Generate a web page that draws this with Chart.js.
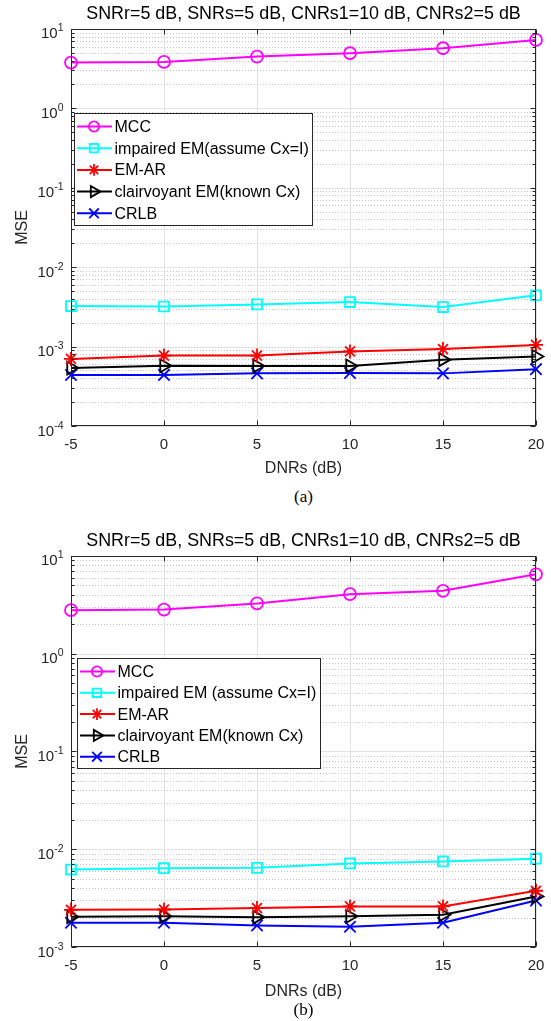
<!DOCTYPE html>
<html>
<head>
<meta charset="utf-8">
<script src="https://cdn.jsdelivr.net/npm/chart.js@4.4.1/dist/chart.umd.min.js"></script>
<style>
  html, body { margin: 0; padding: 0; background: #fff; overflow: hidden; width: 551px; height: 1021px; }
  .panel { position: absolute; left: 0; }
  .caption { position: absolute; left: 0; width: 607px; text-align: center;
             font-family: "Liberation Serif", "Times New Roman", serif; font-size: 17px; color: #000; line-height: 20px; }
</style>
</head>
<body>
<div class="panel" style="top:0px"><canvas id="chartA" width="607" height="480"></canvas></div>
<div class="caption" style="top:487px">(a)</div>
<div class="panel" style="top:527px"><canvas id="chartB" width="607" height="474"></canvas></div>
<div class="caption" style="top:1000px">(b)</div>
<script>
// DNR sweep (x axis) and shared labels
const dnrs = [-5, 0, 5, 10, 15, 20];
const titleText = 'SNRr=5 dB, SNRs=5 dB, CNRs1=10 dB, CNRs2=5 dB';
const xTitle = 'DNRs (dB)';
const yTitle = 'MSE';
const namesA = ['MCC', 'impaired EM(assume Cx=I)', 'EM-AR', 'clairvoyant EM(known Cx)', 'CRLB'];
const namesB = ['MCC', 'impaired EM (assume Cx=I)', 'EM-AR', 'clairvoyant EM(known Cx)', 'CRLB'];

// Panel (a) MSE values
const mccA      = [3.77, 3.85, 4.49, 4.95, 5.72, 7.28];
const impairedA = [3.24e-3, 3.2e-3, 3.4e-3, 3.64e-3, 3.15e-3, 4.43e-3];
const emArA     = [7.0e-4, 7.7e-4, 7.7e-4, 8.7e-4, 9.3e-4, 1.05e-3];
const clairA    = [5.37e-4, 5.74e-4, 5.7e-4, 5.7e-4, 6.85e-4, 7.5e-4];
const crlbA     = [4.38e-4, 4.4e-4, 4.6e-4, 4.65e-4, 4.6e-4, 5.2e-4];

// Panel (b) MSE values
const mccB      = [2.79, 2.83, 3.27, 4.07, 4.4, 6.49];
const impairedB = [6.2e-3, 6.4e-3, 6.45e-3, 7.16e-3, 7.5e-3, 8.0e-3];
const emArB     = [2.4e-3, 2.42e-3, 2.5e-3, 2.6e-3, 2.6e-3, 3.76e-3];
const clairB    = [2.04e-3, 2.06e-3, 2.02e-3, 2.06e-3, 2.14e-3, 3.29e-3];
const crlbB     = [1.77e-3, 1.77e-3, 1.66e-3, 1.61e-3, 1.77e-3, 2.99e-3];

const FONT = '"Liberation Sans", Arial, Helvetica, sans-serif';
Chart.defaults.font.family = FONT;

// Line/marker style per series
const styles = [
  { color: '#ff00ff', pointStyle: 'circle',   radius: 6, rotation: 0 },
  { color: '#00ffff', pointStyle: 'rect',     radius: 7, rotation: 0 },
  { color: '#ff0000', pointStyle: 'star',     radius: 7, rotation: 0 },
  { color: '#000000', pointStyle: 'triangle', radius: 7.5, rotation: 90 },
  { color: '#0000ff', pointStyle: 'crossRot', radius: 8, rotation: 0 }
];

function makeDatasets(names, series) {
  return series.map((vals, i) => ({
    label: names[i],
    data: dnrs.map((x, j) => ({ x: x, y: vals[j] })),
    borderColor: styles[i].color,
    backgroundColor: 'rgba(0,0,0,0)',
    borderWidth: 2,
    pointStyle: styles[i].pointStyle,
    pointRadius: styles[i].radius,
    pointHoverRadius: styles[i].radius,
    pointRotation: styles[i].rotation,
    pointBorderWidth: 1.8,
    pointBorderColor: styles[i].color,
    pointBackgroundColor: 'rgba(0,0,0,0)',
    tension: 0,
    clip: false
  }));
}

// Decade ticks with 2..9 minor subdivisions
function logTicks(scale) {
  const lo = Math.round(Math.log10(scale.min));
  const hi = Math.round(Math.log10(scale.max));
  const ticks = [];
  for (let e = lo; e <= hi; e++) {
    for (let m = 1; m <= 9; m++) {
      if (e === hi && m > 1) break;
      ticks.push({ value: m * Math.pow(10, e), major: m === 1, exp: e });
    }
  }
  scale.ticks = ticks;
}

// MATLAB-style axes: log grid, box, inward tick marks, 10^n labels
const matlabAxes = {
  id: 'matlabAxes',
  beforeDatasetsDraw(chart) {
    const { ctx, chartArea: a, scales: { y } } = chart;
    ctx.save();
    ctx.lineWidth = 1;
    y.ticks.forEach(t => {
      const py = Math.round(y.getPixelForValue(t.value)) + 0.5;
      if (py < a.top || py > a.bottom + 1) return;
      if (t.major) { ctx.setLineDash([]); ctx.strokeStyle = '#e3e3e3'; }
      else { ctx.setLineDash([1, 2]); ctx.strokeStyle = '#c2c2c2'; }
      ctx.beginPath();
      ctx.moveTo(a.left, py);
      ctx.lineTo(a.right, py);
      ctx.stroke();
    });
    ctx.restore();
  },
  afterDatasetsDraw(chart) {
    const { ctx, chartArea: a, scales: { x, y } } = chart;
    ctx.save();
    ctx.strokeStyle = '#262626';
    ctx.lineWidth = 1;
    ctx.setLineDash([]);
    const L = Math.round(a.left) + 0.5, R = Math.round(a.right) - 0.5;
    const T = Math.round(a.top) + 0.5, B = Math.round(a.bottom) - 0.5;
    ctx.strokeRect(L, T, R - L, B - T);
    ctx.beginPath();
    x.ticks.forEach(t => {
      const px = Math.round(x.getPixelForValue(t.value)) + 0.5;
      ctx.moveTo(px, B); ctx.lineTo(px, B - 5);
      ctx.moveTo(px, T); ctx.lineTo(px, T + 5);
    });
    y.ticks.forEach(t => {
      const py = Math.round(y.getPixelForValue(t.value)) + 0.5;
      const len = t.major ? 5 : 3;
      ctx.moveTo(L, py); ctx.lineTo(L + len, py);
      ctx.moveTo(R, py); ctx.lineTo(R - len, py);
    });
    ctx.stroke();

    // y tick labels: base 10 with raised exponent
    ctx.fillStyle = '#262626';
    ctx.textBaseline = 'alphabetic';
    ctx.textAlign = 'left';
    y.ticks.filter(t => t.major).forEach(t => {
      const py = y.getPixelForValue(t.value);
      const expStr = String(t.exp);
      ctx.font = '10.5px ' + FONT;
      const ew = ctx.measureText(expStr).width;
      ctx.font = '15px ' + FONT;
      const bw = ctx.measureText('10').width;
      const right = a.left - 7.5;
      ctx.fillText('10', right - ew - bw, py + 9.5);
      ctx.font = '10.5px ' + FONT;
      ctx.fillText(expStr, right - ew, py + 2.5);
    });
    ctx.restore();
  }
};

// Boxed legend inside the axes, line sample with marker
const matlabLegend = {
  id: 'matlabLegend',
  afterDraw(chart, args, o) {
    const { ctx, chartArea: a } = chart;
    const items = chart.data.datasets;
    ctx.save();
    ctx.font = o.fontSize + 'px ' + FONT;
    const maxW = Math.max(...items.map(d => ctx.measureText(d.label).width));
    const left = Math.round(a.left + o.dx), top = Math.round(a.top + o.dy);
    const w = Math.round(o.textX + maxW + o.padRight);
    const h = Math.round(o.padTop + o.rowH * (items.length - 1) + o.padBottom);
    ctx.fillStyle = '#ffffff';
    ctx.fillRect(left, top, w, h);
    ctx.strokeStyle = '#262626';
    ctx.lineWidth = 1;
    ctx.strokeRect(left + 0.5, top + 0.5, w, h);
    items.forEach((d, i) => {
      const cy = top + o.padTop + i * o.rowH;
      ctx.strokeStyle = d.borderColor;
      ctx.lineWidth = d.borderWidth;
      ctx.beginPath();
      ctx.moveTo(left + o.lineX0, cy);
      ctx.lineTo(left + o.lineX1, cy);
      ctx.stroke();
      ctx.fillStyle = 'rgba(0,0,0,0)';
      ctx.lineWidth = d.pointBorderWidth;
      Chart.helpers.drawPoint(ctx, {
        pointStyle: d.pointStyle, rotation: d.pointRotation,
        radius: d.pointRadius * 0.85, borderWidth: d.pointBorderWidth
      }, left + o.markX, cy);
      ctx.fillStyle = '#000';
      ctx.font = o.fontSize + 'px ' + FONT;
      ctx.textBaseline = 'middle';
      ctx.textAlign = 'left';
      ctx.fillText(d.label, left + o.textX, cy + 1);
    });
    ctx.restore();
  }
};

function buildChart(id, names, series, yMin, yMax, p) {
  return new Chart(document.getElementById(id), {
    type: 'line',
    data: { datasets: makeDatasets(names, series) },
    options: {
      responsive: false,
      animation: false,
      events: [],
      layout: { padding: 0 },
      plugins: {
        legend: { display: false },
        tooltip: { enabled: false },
        title: {
          display: true, text: titleText, color: '#000',
          font: { size: 17.9, weight: 'normal' }, padding: { top: 3, bottom: 4.5 }
        },
        matlabLegend: {
          dx: p.legDx, dy: p.legDy, fontSize: 16, textX: 40.5, padRight: 3.5,
          padTop: 13.5, rowH: p.rowH, padBottom: 11.5, lineX0: 3, lineX1: 38, markX: 20
        }
      },
      scales: {
        x: {
          type: 'linear', min: dnrs[0], max: dnrs[dnrs.length - 1],
          afterBuildTicks: s => { s.ticks = dnrs.map(v => ({ value: v })); },
          afterFit: s => { s.height = 54; },
          grid: { color: '#e3e3e3', drawTicks: false, lineWidth: 1 },
          border: { display: false },
          ticks: { color: '#262626', font: { size: 15 }, padding: p.tickPad, maxRotation: 0, autoSkip: false },
          title: { display: true, text: xTitle, color: '#262626', font: { size: 16 }, padding: { top: 0, bottom: p.titlePad } }
        },
        y: {
          type: 'logarithmic', min: yMin, max: yMax,
          afterBuildTicks: logTicks,
          afterFit: s => { s.width = 71; },
          grid: { display: false },
          border: { display: false },
          ticks: { display: false },
          title: { display: true, text: yTitle, color: '#262626', font: { size: 16 }, padding: { top: 12.5, bottom: 0 } }
        },
        // empty right-hand margin so the title centres over the axes
        yRight: {
          type: 'linear', position: 'right', min: 0, max: 1,
          afterFit: s => { s.width = 71; },
          grid: { display: false },
          border: { display: false },
          ticks: { display: false }
        }
      }
    },
    plugins: [matlabAxes, matlabLegend]
  });
}

buildChart('chartA', namesA, [mccA, impairedA, emArA, clairA, crlbA], 1e-4, 10,
  { legDx: 2.5, legDy: 84, rowH: 21.7, tickPad: 9.5, titlePad: 2 });
buildChart('chartB', namesB, [mccB, impairedB, emArB, clairB, crlbB], 1e-3, 10,
  { legDx: 6, legDy: 102, rowH: 21.3, tickPad: 10, titlePad: 0 });
</script>
</body>
</html>
